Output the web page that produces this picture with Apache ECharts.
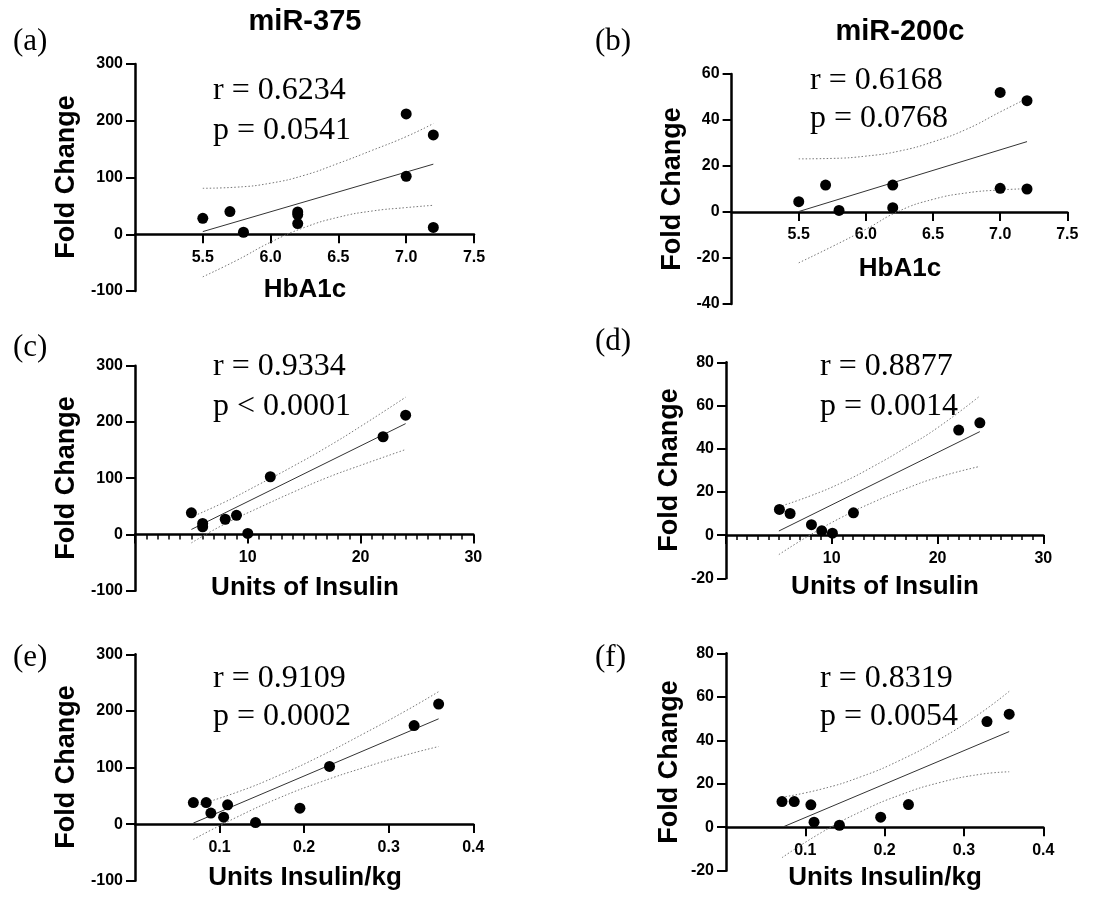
<!DOCTYPE html>
<html>
<head>
<meta charset="utf-8">
<script src="https://cdn.jsdelivr.net/npm/echarts@6/dist/echarts.min.js"></script>
<style>
html, body { margin: 0; padding: 0; background: #fff; }
#chart { width: 1098px; height: 897px; }
</style>
</head>
<body>
<div id="chart"></div>
<script>
const chart = echarts.init(document.getElementById("chart"));

// (a) miR-375 vs HbA1c
const aX = [5.5, 5.7, 5.8, 6.2, 6.2, 6.2, 7.0, 7.0, 7.2, 7.2];
const aY = [28, 40, 3.5, 39.3, 34.7, 18.8, 212, 102, 175, 12];
const aFitX = [5.5, 7.2];
const aFitY = [4.7, 123.5];
const aBandX = [5.5, 5.75, 6.0, 6.25, 6.5, 6.75, 7.0, 7.2];
const aUpper = [81, 83, 90, 104, 125, 148, 172, 195];
const aLower = [-75, -46, -14, 12, 30, 41, 47, 51];

// (b) miR-200c vs HbA1c
const bX = [5.5, 5.7, 5.8, 6.2, 6.2, 7.0, 7.0, 7.2, 7.2];
const bY = [4.5, 11.7, 0.7, 11.7, 1.9, 52, 10.3, 48.4, 10];
const bFitX = [5.5, 7.2];
const bFitY = [0.2, 30.6];
const bBandX = [5.5, 5.75, 6.0, 6.25, 6.5, 6.75, 7.0, 7.2];
const bUpper = [23.1, 23.3, 24.3, 26.5, 30.5, 36, 43.5, 49.4];
const bLower = [-22.1, -15, -7.5, 0.5, 5.5, 8.3, 9.6, 10.1];

// (c) miR-375 vs units of insulin
const cX = [5, 6, 6, 8, 9, 10, 12, 22, 24];
const cY = [38.4, 19.6, 13.5, 27, 34, 1.8, 102.6, 173.7, 212];
const cFitX = [5, 24];
const cFitY = [8.9, 197];
const cBandX = [5, 8, 11, 14, 17, 20, 24];
const cUpper = [31, 58, 89, 121, 155, 192, 244];
const cLower = [-15, 19, 47.6, 75, 100.7, 122.8, 151];

// (d) miR-200c vs units of insulin
const dX = [5.05, 6.06, 8.08, 9.05, 10.06, 12.05, 22, 24];
const dY = [11.9, 10, 4.8, 2, 0.9, 10.3, 48.6, 52];
const dFitX = [5, 24];
const dFitY = [1.9, 47.9];
const dBandX = [5, 8, 11, 14, 17, 20, 24];
const dUpper = [13.1, 18.2, 24.4, 32, 40.5, 49.7, 64.4];
const dLower = [-9, 0.2, 8.4, 15.4, 21.5, 26.7, 31.8];

// (e) miR-375 vs units insulin/kg
const eX = [0.069, 0.0842, 0.0897, 0.1048, 0.1095, 0.1425, 0.195, 0.230, 0.330, 0.359];
const eY = [38.1, 38.1, 19.4, 12.3, 34, 2.8, 28.2, 101.8, 174, 212];
const eFitX = [0.069, 0.359];
const eFitY = [1.8, 186];
const eBandX = [0.069, 0.12, 0.17, 0.22, 0.27, 0.32, 0.359];
const eUpper = [31.4, 56, 86, 120.7, 159.5, 200, 234];
const eLower = [-27, 12, 46, 74.7, 99.5, 122, 137];

// (f) miR-200c vs units insulin/kg
const fX = [0.0706, 0.086, 0.107, 0.111, 0.143, 0.195, 0.230, 0.329, 0.357];
const fY = [11.8, 11.8, 10.3, 2.3, 0.9, 4.6, 10.4, 48.6, 52];
const fFitX = [0.073, 0.357];
const fFitY = [0.3, 44];
const fBandX = [0.0706, 0.12, 0.17, 0.22, 0.27, 0.32, 0.357];
const fUpper = [13.8, 17.5, 23.2, 30.9, 40.6, 52.3, 62.5];
const fLower = [-14, -2.5, 7.2, 14.9, 20.6, 24.3, 25.5];

const SANS = '"Liberation Sans", Arial, sans-serif';
const SERIF = '"Liberation Serif", "Times New Roman", serif';

const panels = [
    {
        grid: { left: 135, top: 64, width: 339, height: 227 },
        x: { min: 5, max: 7.5, interval: 0.5, dec: 1, minor: false },
        y: { min: -100, max: 300, interval: 100 },
        px: aX, py: aY, fitX: aFitX, fitY: aFitY, bandX: aBandX, upper: aUpper, lower: aLower,
        tag: "(a)", tagPos: [13, 42],
        stats: ["r = 0.6234", "p = 0.0541"], statsPos: [213, 91, 131],
        xName: "HbA1c", xNamePos: [305, 290], yNamePos: [67, 177]
    },
    {
        grid: { left: 731.6, top: 74, width: 335.7, height: 230 },
        x: { min: 5, max: 7.5, interval: 0.5, dec: 1, minor: false },
        y: { min: -40, max: 60, interval: 20 },
        px: bX, py: bY, fitX: bFitX, fitY: bFitY, bandX: bBandX, upper: bUpper, lower: bLower,
        tag: "(b)", tagPos: [595, 42],
        stats: ["r = 0.6168", "p = 0.0768"], statsPos: [810, 81, 119],
        xName: "HbA1c", xNamePos: [900, 269], yNamePos: [673, 189]
    },
    {
        grid: { left: 135, top: 365.7, width: 338.3, height: 225 },
        x: { min: 0, max: 30, interval: 10, dec: 0, minor: true },
        y: { min: -100, max: 300, interval: 100 },
        px: cX, py: cY, fitX: cFitX, fitY: cFitY, bandX: cBandX, upper: cUpper, lower: cLower,
        tag: "(c)", tagPos: [13, 348],
        stats: ["r = 0.9334", "p < 0.0001"], statsPos: [213, 367, 407],
        xName: "Units of Insulin", xNamePos: [305, 588], yNamePos: [67, 478]
    },
    {
        grid: { left: 726, top: 362.3, width: 317.3, height: 216 },
        x: { min: 0, max: 30, interval: 10, dec: 0, minor: true },
        y: { min: -20, max: 80, interval: 20 },
        px: dX, py: dY, fitX: dFitX, fitY: dFitY, bandX: dBandX, upper: dUpper, lower: dLower,
        tag: "(d)", tagPos: [595, 342],
        stats: ["r = 0.8877", "p = 0.0014"], statsPos: [820, 367, 407],
        xName: "Units of Insulin", xNamePos: [885, 587], yNamePos: [670, 470]
    },
    {
        grid: { left: 135, top: 654.3, width: 338.3, height: 226.4 },
        x: { min: 0, max: 0.4, interval: 0.1, dec: 1, minor: false },
        y: { min: -100, max: 300, interval: 100 },
        px: eX, py: eY, fitX: eFitX, fitY: eFitY, bandX: eBandX, upper: eUpper, lower: eLower,
        tag: "(e)", tagPos: [13, 658],
        stats: ["r = 0.9109", "p = 0.0002"], statsPos: [213, 679, 717],
        xName: "Units Insulin/kg", xNamePos: [305, 878], yNamePos: [67, 767]
    },
    {
        grid: { left: 726, top: 653.3, width: 317.3, height: 217.4 },
        x: { min: 0, max: 0.4, interval: 0.1, dec: 1, minor: false },
        y: { min: -20, max: 80, interval: 20 },
        px: fX, py: fY, fitX: fFitX, fitY: fFitY, bandX: fBandX, upper: fUpper, lower: fLower,
        tag: "(f)", tagPos: [595, 658],
        stats: ["r = 0.8319", "p = 0.0054"], statsPos: [820, 679, 717],
        xName: "Units Insulin/kg", xNamePos: [885, 878], yNamePos: [670, 762]
    }
];

function zip(xs, ys) {
    return xs.map((x, i) => [x, ys[i]]);
}

function text(str, x, y, font, align, extra) {
    return Object.assign({
        type: "text",
        x: x,
        y: y,
        silent: true,
        style: {
            text: str,
            font: font,
            fill: "#000",
            textAlign: align,
            textVerticalAlign: "middle"
        }
    }, extra || {});
}

const grids = [];
const xAxes = [];
const yAxes = [];
const series = [];
const graphics = [];

panels.forEach((p, i) => {
    grids.push(Object.assign({ containLabel: false }, p.grid));

    // the x axis sits on y = 0, shifted up from the grid bottom
    const zeroOffset = -p.grid.height * (0 - p.y.min) / (p.y.max - p.y.min);

    xAxes.push({
        gridIndex: i,
        type: "value",
        position: "bottom",
        offset: zeroOffset,
        min: p.x.min,
        max: p.x.max,
        interval: p.x.interval,
        axisLine: { show: true, onZero: false, lineStyle: { color: "#000", width: 2.5 } },
        axisTick: { show: true, length: 9, lineStyle: { color: "#000", width: 2 } },
        minorTick: { show: p.x.minor, splitNumber: 10, length: 5, lineStyle: { color: "#000", width: 1.5 } },
        axisLabel: {
            showMinLabel: false,
            margin: 15,
            color: "#000",
            fontFamily: SANS,
            fontWeight: "bold",
            fontSize: 16,
            formatter: v => Number(v).toFixed(p.x.dec)
        },
        splitLine: { show: false }
    });

    yAxes.push({
        gridIndex: i,
        type: "value",
        min: p.y.min,
        max: p.y.max,
        interval: p.y.interval,
        axisLine: { show: true, onZero: false, lineStyle: { color: "#000", width: 2.5 } },
        axisTick: { show: true, length: 9, lineStyle: { color: "#000", width: 2 } },
        axisLabel: {
            margin: 12,
            color: "#000",
            fontFamily: SANS,
            fontWeight: "bold",
            fontSize: 16
        },
        splitLine: { show: false }
    });

    const bandStyle = { color: "#777", width: 1, type: [1.5, 2] };
    series.push(
        {
            type: "line", xAxisIndex: i, yAxisIndex: i, smooth: true, showSymbol: false, silent: true,
            lineStyle: bandStyle, data: zip(p.bandX, p.upper), z: 2
        },
        {
            type: "line", xAxisIndex: i, yAxisIndex: i, smooth: true, showSymbol: false, silent: true,
            lineStyle: bandStyle, data: zip(p.bandX, p.lower), z: 2
        },
        {
            type: "line", xAxisIndex: i, yAxisIndex: i, showSymbol: false, silent: true,
            lineStyle: { color: "#333", width: 1 }, data: zip(p.fitX, p.fitY), z: 3
        },
        {
            type: "scatter", xAxisIndex: i, yAxisIndex: i, symbolSize: 11, silent: true,
            itemStyle: { color: "#000", opacity: 1 }, data: zip(p.px, p.py), z: 5
        }
    );

    graphics.push(
        text(p.tag, p.tagPos[0], p.tagPos[1], "31px " + SERIF, "left"),
        text(p.stats[0], p.statsPos[0], p.statsPos[1], "32px " + SERIF, "left"),
        text(p.stats[1], p.statsPos[0], p.statsPos[2], "32px " + SERIF, "left"),
        text(p.xName, p.xNamePos[0], p.xNamePos[1], "bold 26px " + SANS, "center"),
        text("Fold Change", p.yNamePos[0], p.yNamePos[1], "bold 27px " + SANS, "center", { rotation: Math.PI / 2 })
    );
});

graphics.push(
    text("miR-375", 305, 22, "bold 29px " + SANS, "center"),
    text("miR-200c", 900, 32, "bold 29px " + SANS, "center")
);

chart.setOption({
    animation: false,
    backgroundColor: "#fff",
    grid: grids,
    xAxis: xAxes,
    yAxis: yAxes,
    series: series,
    graphic: graphics
});

window.addEventListener("resize", () => chart.resize());
</script>
</body>
</html>
